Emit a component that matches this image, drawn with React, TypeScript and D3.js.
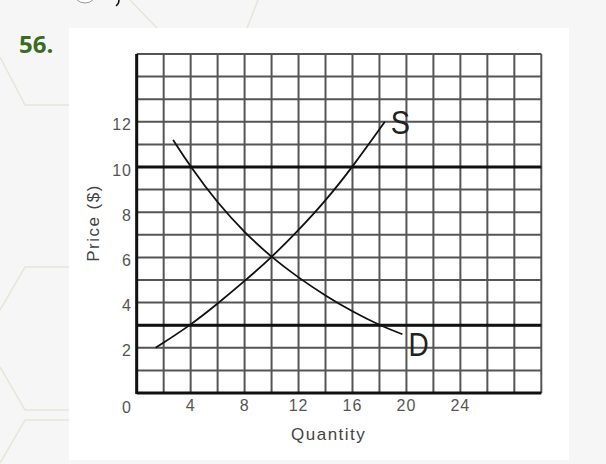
import React from "react";
import * as d3 from "d3";

// chart values
const xTicks = [0, 4, 8, 12, 16, 20, 24];
const yTicks = [2, 4, 6, 8, 10, 12];
const supplyQ = [1.4, 4, 6, 8, 10, 12, 14, 16, 18.4];
const supplyP = [2, 3, 3.95, 4.95, 6, 7.2, 8.5, 10, 12];
const demandQ = [2.7, 4, 6, 8, 10, 12, 14, 16, 18, 19.7];
const demandP = [11.2, 10, 8.4, 7.1, 6, 5.1, 4.3, 3.6, 3, 2.6];
const priceLines = [10, 3];

const W = 606;
const H = 464;
const font = "'Liberation Sans', Arial, sans-serif";

const App: React.FC = () => {
  const x = d3.scaleLinear().domain([0, 30]).range([136.7, 541.3]);
  const y = d3.scaleLinear().domain([0, 15]).range([393, 54]);

  const line = d3
    .line<[number, number]>()
    .x((d) => x(d[0]))
    .y((d) => y(d[1]))
    .curve(d3.curveBasis);

  const supply = supplyQ.map((q, i) => [q, supplyP[i]] as [number, number]);
  const demand = demandQ.map((q, i) => [q, demandP[i]] as [number, number]);

  const vGrid = d3.range(0, 31, 2);
  const hGrid = d3.range(0, 16, 1);

  const sEnd = supply[supply.length - 1];
  const dEnd = demand[demand.length - 1];

  return (
    <svg
      width={W}
      height={H}
      style={{ position: "absolute", left: 0, top: 0 }}
      fontFamily={font}
    >
      <rect width={W} height={H} fill="#f6f6f6" />
      {/* faint hexagon pattern of the page */}
      <g fill="none" stroke="#e7e5d8" strokeWidth={1.5}>
        <path d="M0,57 L25,105 L69,105" />
        <path d="M69,267 L25,267 L0,310" />
        <path d="M0,367 L25,410 L69,410" />
        <path d="M69,420 L25,420 L0,463" />
        <path d="M130,0 L157,28" />
        <path d="M258,0 L247,28" />
      </g>
      <circle cx={85} cy={-9} r={12} fill="#fff" stroke="#999" strokeWidth={1} />
      <path d="M119,0 Q119,4 116,6" fill="none" stroke="#111" strokeWidth={1.5} />

      <text x={19} y={53} fontFamily="'Open Sans', sans-serif" fontWeight={700} fontSize={24} fill="#3b6b1f">
        56.
      </text>

      <rect x={69} y={28} width={500} height={432} fill="#fff" />

      {/* grid */}
      <g stroke="#555" strokeWidth={2}>
        {vGrid.map((v) => (
          <line key={"v" + v} x1={x(v)} x2={x(v)} y1={y(0)} y2={y(15)} />
        ))}
        {hGrid.map((v) => (
          <line key={"h" + v} x1={x(0)} x2={x(30)} y1={y(v)} y2={y(v)} />
        ))}
      </g>
      {/* axes */}
      <g stroke="#111" strokeWidth={3}>
        <line x1={x(0)} x2={x(0)} y1={y(0) + 1} y2={y(15)} />
        <line x1={x(0)} x2={x(30)} y1={y(0)} y2={y(0)} />
        {priceLines.map((p) => (
          <line key={"p" + p} x1={x(0)} x2={x(30)} y1={y(p)} y2={y(p)} />
        ))}
      </g>

      {/* curves */}
      <path d={line(supply) || ""} fill="none" stroke="#111" strokeWidth={1.8} />
      <path d={line(demand) || ""} fill="none" stroke="#111" strokeWidth={1.8} />

      <text
        transform={`translate(${x(sEnd[0]) + 6},${y(sEnd[1]) + 12}) scale(0.85,1)`}
        fontSize={34}
        fill="#222"
      >
        S
      </text>
      <text
        transform={`translate(${x(dEnd[0]) + 6},${y(dEnd[1]) + 22}) scale(0.85,1)`}
        fontSize={33}
        fill="#222"
      >
        D
      </text>

      {/* tick labels */}
      <g fontSize={16} fill="#555" letterSpacing={1}>
        {yTicks.map((t) => (
          <text key={"yt" + t} x={132} y={y(t) + 8.5} textAnchor="end">
            {t}
          </text>
        ))}
        {xTicks.map((t) => (
          <text
            key={"xt" + t}
            x={t === 0 ? 132 : x(t)}
            y={t === 0 ? 413 : 411}
            textAnchor={t === 0 ? "end" : "middle"}
          >
            {t}
          </text>
        ))}
      </g>

      <text x={328.7} y={440} textAnchor="middle" fontSize={17} letterSpacing={1.5} fill="#444">
        Quantity
      </text>
      <text
        transform="translate(99,223) rotate(-90)"
        textAnchor="middle"
        fontSize={17}
        letterSpacing={1.5}
        fill="#444"
      >
        Price ($)
      </text>
    </svg>
  );
};

export default App;
